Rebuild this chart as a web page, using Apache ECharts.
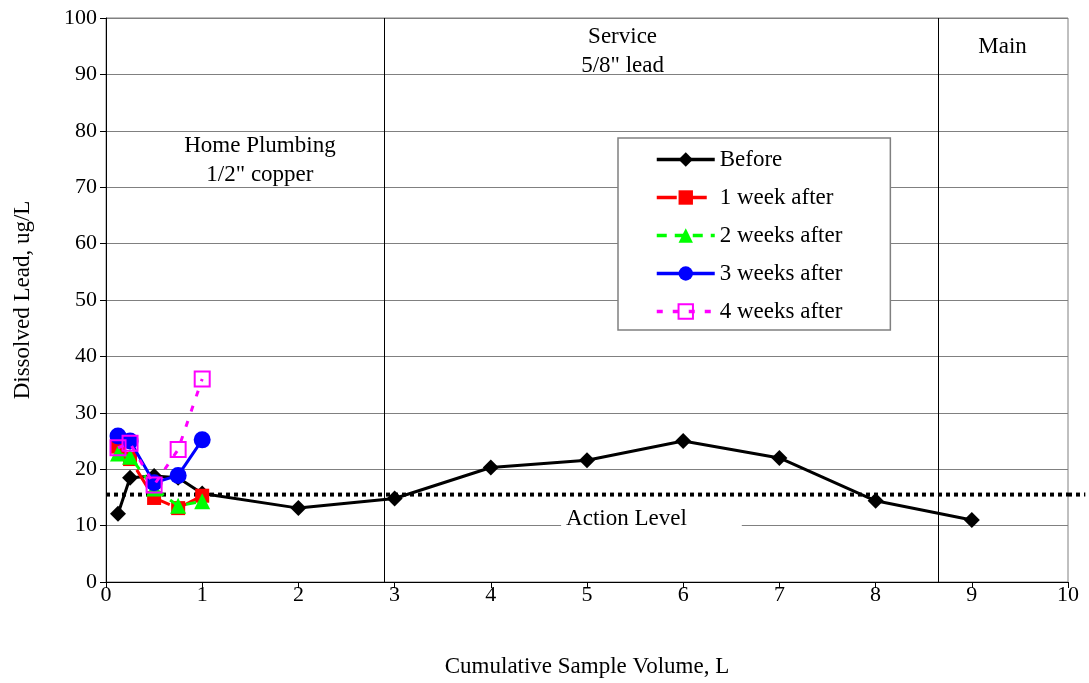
<!DOCTYPE html>
<html>
<head>
<meta charset="utf-8">
<script src="https://cdn.jsdelivr.net/npm/echarts@6/dist/echarts.min.js"></script>
<style>html,body{margin:0;padding:0;background:#fff;}#c{width:1089px;height:683px;}</style>
</head>
<body>
<div id="c"></div>
<script>
// Data
const beforeData = [[0.125,12.1],[0.25,18.5],[0.5,18.8],[0.75,18.5],[1,15.7],[2,13.1],[3,14.8],[4,20.3],[5,21.6],[6,25.0],[7,22.0],[8,14.4],[9,11.0]];
const week1Data = [[0.125,24.0],[0.25,21.8],[0.5,14.9],[0.75,13.1],[1,15.3]];
const week2Data = [[0.125,22.8],[0.25,22.2],[0.5,16.6],[0.75,13.5],[1,14.3]];
const week3Data = [[0.125,25.9],[0.25,25.0],[0.5,17.6],[0.75,18.9],[1,25.2]];
const week4Data = [[0.125,23.8],[0.25,24.6],[0.5,17.2],[0.75,23.5],[1,36.0]];
const actionLevel = 15.5;
const actionLevelData = [[0,actionLevel],[10,actionLevel]];
const actionLevelEndX = 10.18;
const dividerX = [2.89, 8.65];
const seriesNames = ['Before','1 week after','2 weeks after','3 weeks after','4 weeks after'];

const FONT = 'Liberation Serif';
const chart = echarts.init(document.getElementById('c'), null, {renderer:'canvas'});

const option = {
  animation: false,
  backgroundColor: '#fff',
  textStyle: {fontFamily: FONT},
  grid: {left:106, right:21, top:18, bottom:101, show:true, borderColor:'#808080', borderWidth:1, backgroundColor:'transparent'},
  xAxis: {
    type:'value', min:0, max:10, interval:1,
    name:'Cumulative Sample Volume, L', nameLocation:'middle', nameGap:73,
    nameTextStyle:{fontFamily:FONT, fontSize:23, color:'#000'},
    axisLine:{show:true, onZero:false, lineStyle:{color:'#000', width:1}},
    axisTick:{show:true, inside:false, length:6, lineStyle:{color:'#000'}},
    axisLabel:{fontFamily:FONT, fontSize:22, color:'#000', margin:2},
    splitLine:{show:false}
  },
  yAxis: {
    type:'value', min:0, max:100, interval:10,
    name:'Dissolved Lead, ug/L', nameLocation:'middle', nameGap:72, nameRotate:90,
    nameTextStyle:{fontFamily:FONT, fontSize:23, color:'#000'},
    axisLine:{show:true, lineStyle:{color:'#000', width:1}},
    axisTick:{show:true, inside:false, length:6, lineStyle:{color:'#000'}},
    axisLabel:{fontFamily:FONT, fontSize:22, color:'#000', margin:9},
    splitLine:{show:true, lineStyle:{color:'#808080', width:1}}
  },
  legend: {
    data: seriesNames,
    orient:'vertical', left:618, top:138,
    padding:[10,48,7,37],
    itemWidth:58, itemHeight:18, itemGap:15,
    backgroundColor:'#fff', borderColor:'#808080', borderWidth:1.5,
    lineStyle:{width:3.5},
    textStyle:{fontFamily:FONT, fontSize:23, color:'#000'}
  },
  series: [
    {
      name:'Action Level', type:'line', data: actionLevelData, symbol:'none', z:1,
      lineStyle:{color:'#000', width:4, type:[4,4]},
      markLine:{
        silent:true, symbol:['none','none'], label:{show:false},
        lineStyle:{color:'#000', width:1, type:'solid'},
        data: dividerX.map(v => ({xAxis:v}))
      }
    },
    {
      name:'Before', type:'line', data: beforeData, symbol:'diamond', symbolSize:16, z:3,
      lineStyle:{color:'#000', width:3}, itemStyle:{color:'#000'}
    },
    {
      name:'1 week after', type:'line', data: week1Data, symbol:'rect', symbolSize:14, z:4,
      lineStyle:{color:'#ff0000', width:3, type:[20,10]}, itemStyle:{color:'#ff0000'}
    },
    {
      name:'2 weeks after', type:'line', data: week2Data, symbol:'triangle', symbolSize:16, z:5,
      lineStyle:{color:'#00ff00', width:3, type:[10,8]}, itemStyle:{color:'#00ff00'}
    },
    {
      name:'3 weeks after', type:'line', data: week3Data, symbol:'circle', symbolSize:17, z:6,
      lineStyle:{color:'#0000ff', width:3}, itemStyle:{color:'#0000ff'}
    },
    {
      name:'4 weeks after', type:'line', data: week4Data, symbol:'rect', symbolSize:15, z:7,
      lineStyle:{color:'#ff00ff', width:3, type:[6,10]},
      itemStyle:{color:'rgba(255,255,255,0)', borderColor:'#ff00ff', borderWidth:2}
    }
  ]
};
chart.setOption(option);

// Annotation text placed through the axes' scales
const annotations = [
  {text:'Home Plumbing\n1/2" copper', x:1.60, y:74.8, bg:false},
  {text:'Service\n5/8" lead', x:5.37, y:94.0, bg:false},
  {text:'Main', x:9.32, y:94.9, bg:false},
  {text:'Action Level', x:5.67, y:11.1, bg:true}
];
const graphics = annotations.map(a => {
  const p = chart.convertToPixel({gridIndex:0}, [a.x, a.y]);
  return {
    type:'text', x:p[0], y:p[1], z:10,
    style:{
      text:a.text, fill:'#000', font:'23px "' + FONT + '"',
      align:'center', verticalAlign:'middle', lineHeight:29,
      backgroundColor: a.bg ? '#fff' : null,
      padding: a.bg ? [2,55,2,5] : 0
    }
  };
});
// extension of the action-level line past the right edge of the plot
const pA = chart.convertToPixel({gridIndex:0}, [10, actionLevel]);
const pB = chart.convertToPixel({gridIndex:0}, [actionLevelEndX, actionLevel]);
graphics.push({
  type:'line', z:2,
  shape:{x1:pA[0], y1:pA[1], x2:pB[0], y2:pB[1]},
  style:{stroke:'#000', lineWidth:4, lineDash:[4,4]}
});
chart.setOption({graphic: graphics});
</script>
</body>
</html>
